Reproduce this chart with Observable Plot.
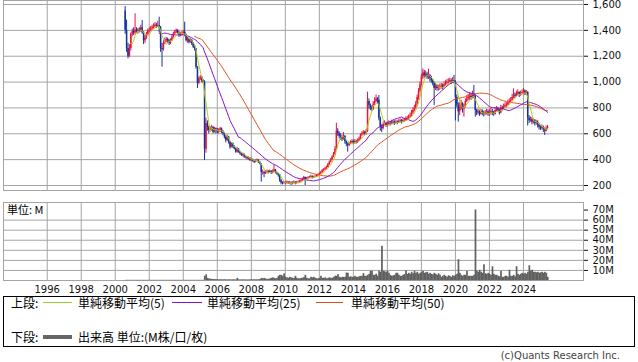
<!DOCTYPE html>
<html><head><meta charset="utf-8">
<script src="https://cdn.jsdelivr.net/npm/d3@7"></script>
<script src="https://cdn.jsdelivr.net/npm/@observablehq/plot@0.6"></script>
<style>
html,body{margin:0;padding:0;background:#fff;}
body{width:638px;height:362px;overflow:hidden;position:relative;font-family:"DejaVu Sans",sans-serif;}
#top{position:absolute;left:0;top:0;}
#bot{position:absolute;left:0;top:200px;}
.abs{position:absolute;white-space:nowrap;}
.jp{font-family:"Noto Sans CJK JP","Noto Sans",sans-serif;font-size:12px;line-height:14px;color:#000;}
#legend{position:absolute;left:3px;top:296px;width:630px;height:49px;border:1px solid #000;}
.sw{position:absolute;height:0;}
#copy{position:absolute;right:18px;top:350px;font-size:10px;line-height:12px;color:#444;font-family:"DejaVu Sans",sans-serif;}
</style></head>
<body>
<div id="top"></div>
<div id="bot"></div>
<div class="abs jp" style="left:7px;top:203px;font-size:11px;line-height:13px;">単位: M</div>
<div id="legend"></div>
<div class="abs jp" style="left:11px;top:296px;">上段:</div>
<div class="sw" style="left:43px;top:302px;width:29px;border-top:1px solid #9acd32;"></div>
<div class="abs jp" style="left:78px;top:296px;">単純移動平均(5)</div>
<div class="sw" style="left:172px;top:302px;width:30px;border-top:1px solid #8a10c8;"></div>
<div class="abs jp" style="left:207px;top:296px;">単純移動平均(25)</div>
<div class="sw" style="left:316px;top:302px;width:27px;border-top:1px solid #e0501c;"></div>
<div class="abs jp" style="left:351px;top:296px;">単純移動平均(50)</div>
<div class="abs jp" style="left:11px;top:330px;">下段:</div>
<div class="sw" style="left:43px;top:335px;width:29px;border-top:4px solid #666;"></div>
<div class="abs jp" style="left:78px;top:330px;">出来高 単位:(M株/口/枚)</div>
<div id="copy">(c)Quants Research Inc.</div>
<script>
// monthly candles, first month = 2000-08
const firstYear = 2000, firstMonth = 8;
const opens = [
 1550,1400,1260,1200,1260,
 1370,1390,1380,1400,1390,1400,1395,1420,1380,1320,1340,1370,
 1400,1400,1410,1425,1430,1440,1430,1437,1420,1260,1250,1300,
 1320,1330,1320,1300,1320,1347,1373,1386,1400,1380,1360,1370,
 1373,1386,1360,1320,1330,1308,1320,1296,1270,1257,1115,990,
 1025,1038,1012,1000,480,680,650,625,638,650,612,638,
 625,613,625,638,613,600,574,548,574,535,496,522,
 500,483,458,480,458,445,432,440,419,420,406,410,
 393,400,390,380,390,395,380,368,300,300,290,300,
 305,300,310,295,305,320,300,290,280,240,220,215,
 220,220,225,218,222,215,220,225,218,222,226,230,
 235,250,262,245,255,260,265,270,262,265,270,275,
 280,290,300,315,320,330,340,360,380,400,420,440,
 480,620,600,580,570,560,580,540,520,510,520,530,
 540,530,540,535,545,560,590,600,610,600,620,850,
 820,800,790,830,850,870,860,720,650,640,670,680,
 665,670,680,675,690,685,680,690,685,695,700,690,
 700,705,715,720,730,740,760,780,800,830,880,930,
 980,1040,1070,1050,1060,1040,1050,1030,1010,990,950,970,
 950,950,960,970,960,980,990,1000,1000,1010,1000,1010,
 1000,880,820,770,800,830,790,810,850,870,880,890,
 880,900,890,780,760,770,750,770,760,750,760,770,
 750,760,770,760,750,780,790,780,760,800,790,810,
 820,820,840,850,860,880,900,890,910,920,900,910,
 920,930,910,920,720,700,710,690,700,680,690,670,
 650,640,650,630,620,640
];
const highs = [
 1584,1480,1300,1290,1380,
 1410,1420,1528,1420,1415,1420,1440,1476,1390,1360,1385,1410,
 1420,1430,1440,1450,1460,1455,1470,1502,1430,1300,1320,1340,
 1345,1340,1330,1335,1360,1385,1400,1410,1405,1390,1385,1390,
 1400,1463,1370,1345,1340,1335,1330,1305,1280,1260,1120,1040,
 1050,1045,1020,1010,720,700,660,655,665,655,650,645,
 640,640,650,645,625,610,585,590,580,540,530,530,
 510,490,495,485,465,450,450,445,430,425,420,415,
 410,405,395,398,405,400,385,370,320,310,315,320,
 315,320,315,320,355,325,305,295,285,245,228,230,
 232,235,230,232,228,230,235,230,232,235,240,245,
 258,270,265,262,268,272,280,275,272,278,285,290,
 298,310,325,330,340,350,370,390,410,430,455,500,
 682,640,615,600,590,610,585,545,530,535,545,555,
 550,555,550,560,575,600,615,625,620,635,922,870,
 830,815,850,880,900,880,896,730,670,690,700,690,
 690,700,695,705,700,700,705,700,710,715,710,715,
 720,730,735,745,760,780,800,820,850,900,950,1000,
 1060,1102,1090,1085,1075,1100,1060,1045,1020,1000,990,980,
 975,985,990,985,1000,1010,1020,1025,1030,1025,1035,1051,
 1010,900,840,840,860,840,830,870,895,905,915,910,
 930,974,900,790,790,780,790,785,775,780,790,785,
 785,795,790,775,800,810,805,790,820,815,830,840,
 840,860,870,880,905,948,915,930,940,925,930,940,
 950,940,935,925,740,730,725,715,710,705,700,680,
 665,670,660,645,660,665
];
const lows = [
 1370,1230,1180,1190,1240,
 1350,1360,1365,1375,1370,1380,1385,1370,1290,1300,1330,1360,
 1380,1390,1400,1410,1420,1415,1420,1380,1230,1115,1240,1290,
 1305,1300,1283,1290,1315,1340,1365,1375,1370,1345,1350,1355,
 1365,1350,1310,1300,1295,1300,1283,1260,1240,1100,950,980,
 1010,995,985,393,450,620,600,610,620,600,605,600,
 600,600,610,600,585,560,530,540,520,480,490,485,
 475,450,450,450,435,425,420,410,405,398,395,385,
 385,380,370,375,385,370,360,226,280,260,285,290,
 290,295,285,290,300,290,280,265,225,205,205,210,
 205,212,208,210,200,205,212,205,210,214,218,222,
 232,245,200,240,248,255,258,250,255,260,265,270,
 275,285,295,305,315,325,335,355,375,395,415,435,
 470,580,560,550,540,550,520,500,458,500,515,525,
 515,520,520,525,540,555,580,590,585,590,610,790,
 780,770,780,820,840,830,700,620,610,630,660,650,
 650,660,660,670,670,665,675,670,680,685,675,685,
 690,695,705,710,720,730,750,770,790,820,860,915,
 970,1020,1030,1035,1020,1020,1000,990,970,819,935,930,
 930,935,945,940,955,970,980,980,990,980,990,985,
 700,800,690,740,780,760,728,800,840,855,860,857,
 870,870,728,740,745,735,745,740,730,740,745,735,
 735,745,740,735,745,770,765,745,755,775,785,800,
 800,815,830,840,855,870,870,885,895,880,890,900,
 905,895,895,660,680,690,670,675,660,665,645,630,
 625,630,610,587,615,630
];
const closes = [
 1400,1260,1200,1260,1370,
 1390,1380,1400,1390,1400,1395,1420,1380,1320,1340,1370,1400,
 1400,1410,1425,1430,1440,1430,1437,1420,1260,1250,1300,1320,
 1330,1320,1300,1320,1347,1373,1386,1400,1380,1360,1370,1373,
 1386,1360,1320,1330,1308,1320,1296,1270,1257,1115,990,1025,
 1038,1012,1000,480,680,650,625,638,650,612,638,625,
 613,625,638,613,600,574,548,574,535,496,522,500,
 483,458,480,458,445,432,440,419,420,406,410,393,
 400,390,380,390,395,380,368,300,300,290,300,305,
 300,310,295,305,320,300,290,280,240,220,215,220,
 220,225,218,222,215,220,225,218,222,226,230,235,
 250,262,245,255,260,265,270,262,265,270,275,280,
 290,300,315,320,330,340,360,380,400,420,440,480,
 620,600,580,570,560,580,540,520,510,520,530,540,
 530,540,535,545,560,590,600,610,600,620,850,820,
 800,790,830,850,870,860,720,650,640,670,680,665,
 670,680,675,690,685,680,690,685,695,700,690,700,
 705,715,720,730,740,760,780,800,830,880,930,980,
 1040,1070,1050,1060,1040,1050,1030,1010,990,950,970,950,
 950,960,970,960,980,990,1000,1000,1010,1000,1010,1000,
 880,820,770,800,830,790,810,850,870,880,890,880,
 900,890,780,760,770,750,770,760,750,760,770,750,
 760,770,760,750,780,790,780,760,800,790,810,820,
 820,840,850,860,880,900,890,910,920,900,910,920,
 930,910,920,720,700,710,690,700,680,690,670,650,
 640,650,630,620,640,650
];
// monthly volume, millions
const volumes = [
 0,0,0,0,0,
 0,0,0,0,0,0,0,0,0,0,0,0,
 0,0,0,0,0,0,0,0,0,0,0,0,
 0,0,0,0,0,0,0,0,0,0,0,0,
 0,0,0,0,0,0,0,0,0,0,0,0,
 0,0,0,4,5.5,2,1.5,1,1,0.8,0.8,0.7,
 0.6,0.5,0.6,0.5,0.5,0.6,0.5,0.4,0.5,0.5,0.4,0.5,
 0.5,0.4,2,0.5,0.4,0.4,0.5,0.4,0.4,0.3,0.4,0.5,
 0.5,0.5,0.6,0.5,0.5,0.6,0.8,2,1.5,2,1.2,1,
 1,1.5,2,2.5,2,1.5,2,4,5,5,4,6.4,
 3,2.5,2,3,2.5,2,2,4,2,1.5,1.5,2,
 2,3,5,2,1.5,1.5,3,2.5,3,2,1.5,1.5,
 2,4,2,2,2.5,1.5,2,2.5,2,2,3,4,
 4,5.7,3,2.5,3,3,3,7.3,7,3,3.5,3,
 3,4,3,3,3.5,4,4,6.7,4,4,5,6,
 9,9,5,5,6,4,9,8,33.8,9,8.5,8,
 9,7,5,4,4.5,5,7,7,5,4,4,5,
 5.7,9.5,6,7,6,8,6.5,9,7,8,6,7,
 8,9,7,7.5,8,6,7,6,5.5,7,6,5,
 6.5,5,3,4,5,4,3,4.5,4,3,4.5,4,
 5,6,20.5,7,5,4,5,5,9,4,4,4,
 4,5,70,9,8,10,8,7,15.5,6.5,6,7,
 6,5,13.5,6,5,5,4,3.5,9,3,3,4,
 4,3,10,4,4,5,3.5,13.5,6,5,6,7,
 6,7,6,8,14.5,9,10,8,8,7.5,8,7,
 7.5,8,7,8,7,3
];
const priceTicks = [200,400,600,800,1000,1200,1400,1600];
const volumeTicks = [10,20,30,40,50,60,70];
const volumeGrid = [10,20,30,40,50,60];
const yearTicks = [1996,1998,2000,2002,2004,2006,2008,2010,2012,2014,2016,2018,2020,2022,2024];

const rows = closes.map((c, i) => ({
  t: firstYear + (firstMonth - 1 + i) / 12,
  o: opens[i], h: highs[i], l: lows[i], c, v: volumes[i]
}));

const XDOM = [1993.43, 2027.53];
const GRID = "#a4a4a4";
const UP = "#f0103c", DOWN = "#12349a";
const upRows = rows.filter(d => d.c >= d.o);
const downRows = rows.filter(d => d.c < d.o);
const fmtComma = d3.format(",");

const topChart = Plot.plot({
  width: 638, height: 191,
  marginTop: 0, marginBottom: 1, marginLeft: 3, marginRight: 55,
  style: {fontSize: "10px", fontFamily: "DejaVu Sans", color: "#111", background: "transparent"},
  x: {domain: XDOM, axis: null},
  y: {domain: [161.3, 1631], axis: "right", ticks: priceTicks, tickFormat: fmtComma, tickSize: 4, tickPadding: 5, label: null},
  marks: [
    Plot.ruleY(priceTicks, {stroke: GRID}),
    Plot.ruleX(yearTicks, {stroke: GRID}),
    Plot.frame({stroke: GRID}),
    Plot.ruleX(upRows, {x: "t", y1: "l", y2: "h", stroke: UP, strokeWidth: 1}),
    Plot.ruleX(downRows, {x: "t", y1: "l", y2: "h", stroke: DOWN, strokeWidth: 1}),
    Plot.ruleX(upRows, {x: "t", y1: "o", y2: "c", stroke: UP, strokeWidth: 1.5}),
    Plot.ruleX(downRows, {x: "t", y1: "o", y2: "c", stroke: DOWN, strokeWidth: 1.5}),
    Plot.lineY(rows, Plot.windowY({k: 50, anchor: "end", reduce: "mean", strict: true}, {x: "t", y: "c", stroke: "#e0501c", strokeWidth: 1})),
    Plot.lineY(rows, Plot.windowY({k: 25, anchor: "end", reduce: "mean", strict: true}, {x: "t", y: "c", stroke: "#8a10c8", strokeWidth: 1})),
    Plot.lineY(rows, Plot.windowY({k: 5, anchor: "end", reduce: "mean", strict: true}, {x: "t", y: "c", stroke: "#b8cc10", strokeWidth: 1}))
  ]
});
document.getElementById("top").appendChild(topChart);

const botChart = Plot.plot({
  width: 638, height: 97,
  marginTop: 2, marginBottom: 17, marginLeft: 3, marginRight: 55,
  style: {fontSize: "10px", fontFamily: "DejaVu Sans", color: "#111", background: "transparent"},
  x: {domain: XDOM, ticks: yearTicks, tickFormat: d => String(d), tickSize: 0, tickPadding: 5, label: null},
  y: {domain: [0, 77.5], axis: "right", ticks: volumeTicks, tickFormat: d => d + "M", tickSize: 4, tickPadding: 5, label: null},
  marks: [
    Plot.ruleY(volumeGrid, {stroke: GRID}),
    Plot.ruleX(yearTicks, {stroke: GRID}),
    Plot.frame({stroke: GRID}),
    Plot.rectY(rows, {x1: "t", x2: d => d.t + 1 / 12, y: "v", fill: "#606060", inset: -0.15})
  ]
});
document.getElementById("bot").appendChild(botChart);
</script>
</body></html>
